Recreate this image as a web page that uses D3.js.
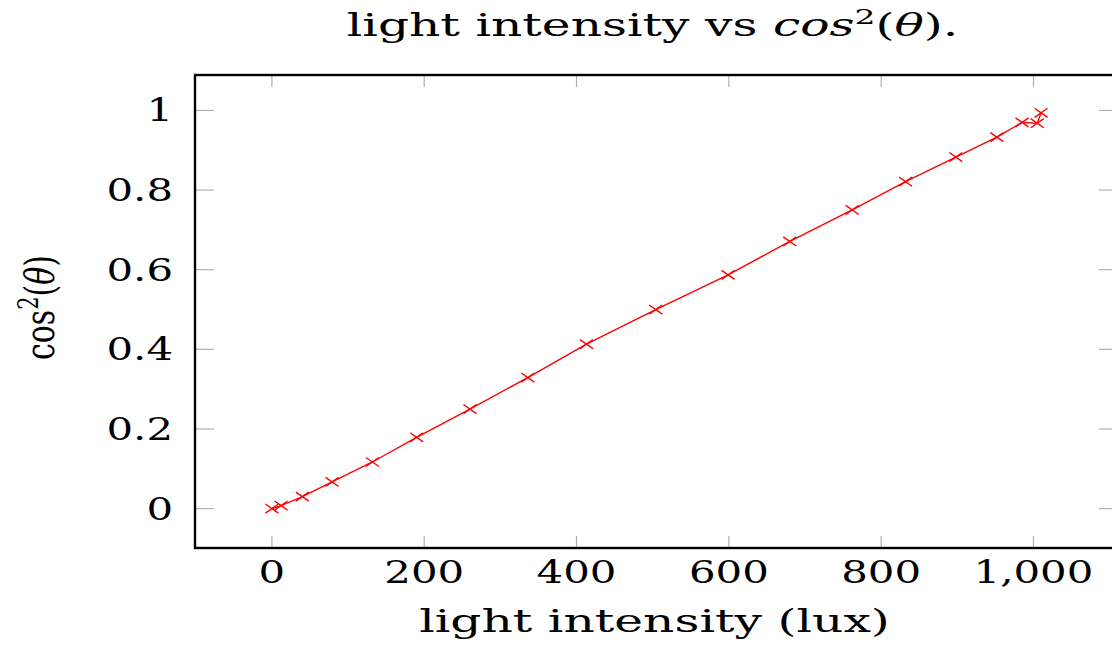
<!DOCTYPE html>
<html>
<head>
<meta charset="utf-8">
<script src="https://cdn.jsdelivr.net/npm/d3@7"></script>
<style>
  body { margin: 0; background: #fff; }
  text { font-family: "DejaVu Serif", serif; fill: #000; }
</style>
</head>
<body>
<div class="chart"></div>
<script>
// light intensity vs cos^2(theta)
var intensity = [0, 12, 40, 79, 132, 190, 260, 336, 413, 504, 599, 680, 762, 832, 898, 952, 985, 1005, 1010];
var cosSq = [0, 0.0076, 0.030, 0.067, 0.117, 0.179, 0.25, 0.329, 0.413, 0.5, 0.587, 0.671, 0.75, 0.821, 0.883, 0.933, 0.970, 0.968, 0.994];
var xTicks = [0, 200, 400, 600, 800, 1000];
var yTicks = [0, 0.2, 0.4, 0.6, 0.8, 1];

var svgWidth = 1112;
var svgHeight = 650;
var margin = {top: 75, right: -6, bottom: 102, left: 195};
var width = svgWidth - margin.left - margin.right;
var height = svgHeight - margin.top - margin.bottom;
var sx = 1.35;  // tick labels are drawn wide in the original
var sxT = 1.57; // title and axis labels even wider
var fs = 31;

var data = intensity.map(function(d, i) { return {x: d, y: cosSq[i]}; });

var svg = d3.select(".chart").append("svg")
  .attr("width", svgWidth)
  .attr("height", svgHeight);

var chart = svg.append("g")
  .attr("transform", "translate(" + margin.left + "," + margin.top + ")");

var xScale = d3.scaleLinear().domain([-101, 1111]).range([0, width]);
var yScale = d3.scaleLinear().domain([-0.099, 1.089]).range([height, 0]);

// ticks, drawn inward on all four sides
var xTickLen = 12, yTickLen = 19;
chart.selectAll(".xtick-b").data(xTicks).enter().append("line")
  .attr("x1", d => xScale(d)).attr("x2", d => xScale(d))
  .attr("y1", height).attr("y2", height - xTickLen)
  .attr("stroke", "#b0b0b0").attr("stroke-width", 1.2);
chart.selectAll(".xtick-t").data(xTicks).enter().append("line")
  .attr("x1", d => xScale(d)).attr("x2", d => xScale(d))
  .attr("y1", 0).attr("y2", xTickLen)
  .attr("stroke", "#b0b0b0").attr("stroke-width", 1.2);
chart.selectAll(".ytick-l").data(yTicks).enter().append("line")
  .attr("x1", 0).attr("x2", yTickLen)
  .attr("y1", d => yScale(d)).attr("y2", d => yScale(d))
  .attr("stroke", "#b0b0b0").attr("stroke-width", 1.2);
chart.selectAll(".ytick-r").data(yTicks).enter().append("line")
  .attr("x1", width).attr("x2", width - yTickLen)
  .attr("y1", d => yScale(d)).attr("y2", d => yScale(d))
  .attr("stroke", "#b0b0b0").attr("stroke-width", 1.2);

// frame
chart.append("rect")
  .attr("width", width).attr("height", height)
  .attr("fill", "none").attr("stroke", "#000").attr("stroke-width", 2.4);

// tick labels
chart.selectAll(".xlab").data(xTicks).enter().append("text")
  .attr("transform", d => "translate(" + xScale(d) + "," + (height + 35) + ") scale(" + sx + ",1)")
  .attr("text-anchor", "middle")
  .style("font-size", fs + "px")
  .text(d => d3.format(",")(d));
chart.selectAll(".ylab").data(yTicks).enter().append("text")
  .attr("transform", d => "translate(-22," + (yScale(d) + 11) + ") scale(" + sx + ",1)")
  .attr("text-anchor", "end")
  .style("font-size", fs + "px")
  .text(d => d3.format("")(d));

// the series
var line = d3.line().x(d => xScale(d.x)).y(d => yScale(d.y));
chart.append("path").datum(data)
  .attr("d", line)
  .attr("fill", "none").attr("stroke", "#ff0000").attr("stroke-width", 1.4);

var m = 6.5;
var marks = chart.selectAll(".mark").data(data).enter().append("g")
  .attr("transform", d => "translate(" + xScale(d.x) + "," + yScale(d.y) + ")");
marks.append("path")
  .attr("d", "M" + (-m) + "," + (-m * 0.7) + "L" + m + "," + (m * 0.7) + "M" + (-m) + "," + (m * 0.7) + "L" + m + "," + (-m * 0.7))
  .attr("stroke", "#ff0000").attr("stroke-width", 1.4).attr("fill", "none");

// title
var title = svg.append("text")
  .attr("transform", "translate(" + (margin.left + width / 2 - 4) + ",36) scale(" + sxT + ",1)")
  .attr("text-anchor", "middle")
  .style("font-size", fs + "px");
title.append("tspan").text("light intensity vs ");
title.append("tspan").style("font-style", "italic").text("cos");
title.append("tspan").attr("dy", -12).style("font-size", "21px").text("2");
title.append("tspan").attr("dy", 12).text("(");
title.append("tspan").style("font-style", "italic").text("θ");
title.append("tspan").text(").");

// x axis label
svg.append("text")
  .attr("transform", "translate(" + (margin.left + width / 2 - 2) + ",632) scale(" + sxT + ",1)")
  .attr("text-anchor", "middle")
  .style("font-size", fs + "px")
  .text("light intensity (lux)");

// y axis label
var ylab = svg.append("text")
  .attr("transform", "translate(54," + (margin.top + yScale(0.5) - 2) + ") scale(" + sx + ",1) rotate(-90)")
  .attr("text-anchor", "middle")
  .style("font-size", "30px");
ylab.append("tspan").text("cos");
ylab.append("tspan").attr("dy", -12).style("font-size", "21px").text("2");
ylab.append("tspan").attr("dy", 12).text("(");
ylab.append("tspan").style("font-style", "italic").text("θ");
ylab.append("tspan").text(")");
</script>
</body>
</html>
